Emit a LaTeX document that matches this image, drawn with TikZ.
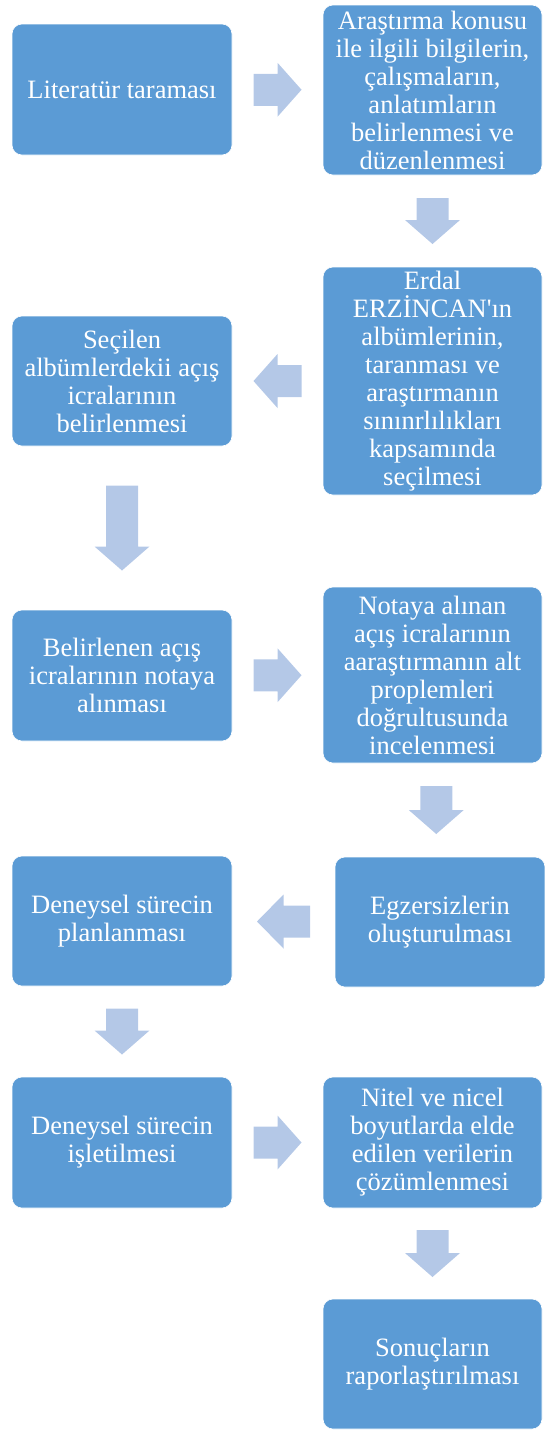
\documentclass[tikz,border=0pt]{standalone}
\usepackage{fontspec}
\setmainfont{Liberation Serif}[Ligatures=TeXOff]
\usetikzlibrary{calc}
\definecolor{boxblue}{RGB}{91,155,213}
\definecolor{arrowblue}{RGB}{180,200,231}
\begin{document}
\begin{tikzpicture}[x=1pt,y=-1pt,
  box/.style={rectangle, rounded corners=10pt, fill=boxblue, draw=white, line width=0.6pt,
    text=white, align=center, inner sep=0pt, minimum width=220pt, minimum height=131pt,
    font=\fontsize{26.5}{28}\selectfont},
  pics/rarrow/.style={code={\fill[arrowblue] (-#1,-16) -- (0,-16) -- (0,-27) -- (#1,0) -- (0,27) -- (0,16) -- (-#1,16) -- cycle;}},
  pics/larrow/.style={code={\fill[arrowblue] (#1,-16) -- (0,-16) -- (0,-27) -- (-#1,0) -- (0,27) -- (0,16) -- (#1,16) -- cycle;}},
  pics/darrow/.style={code={\fill[arrowblue] (-16,-#1) -- (16,-#1) -- (16,#1-24) -- (27.5,#1-24) -- (0,#1) -- (-27.5,#1-24) -- (-16,#1-24) -- cycle;}}
]
\useasboundingbox (0,0) rectangle (545,1430);

\node[box] (b1) at (122,89.5) {Literatür taraması};
\node[box, minimum width=219pt, minimum height=170pt] (b2) at (432.5,90) {Araştırma konusu\\ile ilgili bilgilerin,\\çalışmaların,\\anlatımların\\belirlenmesi ve\\düzenlenmesi};
\node[box, minimum width=219pt, minimum height=228pt] (b3) at (432.5,381) {Erdal\\ERZİNCAN'ın\\albümlerinin,\\taranması ve\\araştırmanın\\sınınrlılıkları\\kapsamında\\seçilmesi};
\node[box, minimum height=130pt] (b4) at (122,381) {Seçilen\\albümlerdekii açış\\icralarının\\belirlenmesi};
\node[box] (b5) at (122,675.5) {Belirlenen açış\\icralarının notaya\\alınması};
\node[box, minimum width=219pt, minimum height=176pt] (b6) at (432.5,675) {Notaya alınan\\açış icralarının\\aaraştırmanın alt\\proplemleri\\doğrultusunda\\incelenmesi};
\node[box, minimum width=210pt, minimum height=130pt] (b7) at (440,922) {Egzersizlerin\\oluşturulması};
\node[box, minimum height=130pt] (b8) at (122,921) {Deneysel sürecin\\planlanması};
\node[box] (b9) at (122,1142.5) {Deneysel sürecin\\işletilmesi};
\node[box, minimum width=219pt] (b10) at (432.5,1142.5) {Nitel ve nicel\\boyutlarda elde\\edilen verilerin\\çözümlenmesi};
\node[box, minimum width=219pt, minimum height=130pt] (b11) at (432.5,1364) {Sonuçların\\raporlaştırılması};

\pic at ($(b1.east)!0.5!(b2.west)$) {rarrow=24};
\pic at ($(b2.south)!0.5!(b3.north)$) {darrow=23};
\pic at ($(b3.west)!0.5!(b4.east)$) {larrow=24};
\pic at ($(b4.south)!0.5!(b5.north)$) {darrow=42.5};
\pic at ($(b5.east)!0.5!(b6.west)$) {rarrow=24};
\pic at ($(b6.south)!0.5!(b7.north)$) {darrow=24};
\pic at ($(b7.west)!0.5!(b8.east)$) {larrow=26.5};
\pic at ($(b8.south)!0.5!(b9.north)$) {darrow=23};
\pic at ($(b9.east)!0.5!(b10.west)$) {rarrow=24};
\pic at ($(b10.south)!0.5!(b11.north)$) {darrow=23.5};
\end{tikzpicture}
\end{document}
